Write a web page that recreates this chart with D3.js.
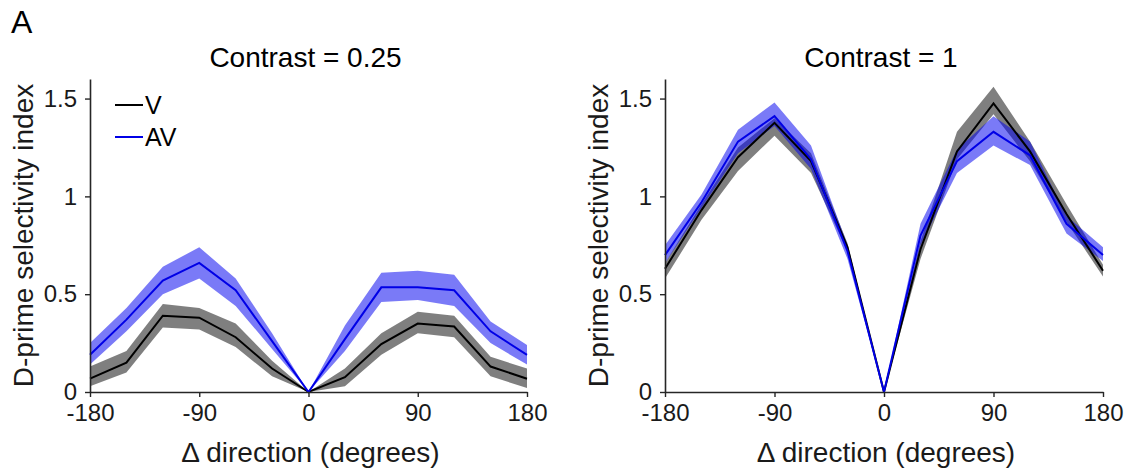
<!DOCTYPE html>
<html><head><meta charset="utf-8">
<script src="https://cdn.jsdelivr.net/npm/d3@7"></script>
<style>
body{margin:0;background:#fff;}
svg{display:block;font-family:"Liberation Sans",Arial,Helvetica,sans-serif;}
</style></head>
<body>
<svg id="chart" width="1137" height="473"></svg>
<script>
const directions = [-180,-150,-120,-90,-60,-30,0,30,60,90,120,150,180];
const xTicks = [-180,-90,0,90,180];
const yTicks = [0,0.5,1,1.5];
const yTickLabels = ["0","0.5","1","1.5"];
const seriesNames = ["V","AV"];
const panelTitles = ["Contrast = 0.25","Contrast = 1"];

// Contrast = 0.25
const lowV    = [0.068,0.15,0.39,0.38,0.28,0.12,0,0.076,0.245,0.35,0.335,0.13,0.068];
const lowVLo  = [0.03,0.10,0.33,0.32,0.23,0.08,0,0.03,0.19,0.30,0.28,0.08,0.02];
const lowVHi  = [0.13,0.21,0.45,0.43,0.35,0.16,0,0.12,0.30,0.41,0.39,0.18,0.12];
const lowAV   = [0.19,0.37,0.57,0.66,0.52,0.26,0,0.27,0.535,0.535,0.52,0.31,0.19];
const lowAVLo = [0.14,0.31,0.50,0.58,0.44,0.22,0,0.21,0.46,0.47,0.44,0.25,0.14];
const lowAVHi = [0.25,0.43,0.64,0.74,0.58,0.30,0,0.34,0.61,0.62,0.60,0.36,0.24];

// Contrast = 1
const highV    = [0.63,0.93,1.20,1.376,1.18,0.74,0,0.73,1.23,1.475,1.23,0.91,0.62];
const highVLo  = [0.58,0.88,1.13,1.31,1.12,0.72,0,0.68,1.19,1.42,1.18,0.87,0.59];
const highVHi  = [0.66,0.96,1.25,1.40,1.22,0.76,0,0.77,1.33,1.56,1.28,0.96,0.65];
const highAV   = [0.70,0.97,1.28,1.41,1.19,0.72,0,0.80,1.18,1.33,1.21,0.86,0.70];
const highAVLo = [0.66,0.94,1.22,1.36,1.14,0.68,0,0.75,1.12,1.26,1.16,0.81,0.67];
const highAVHi = [0.75,1.01,1.34,1.48,1.26,0.75,0,0.86,1.24,1.41,1.28,0.90,0.74];

const panels = [
  {title: panelTitles[0], left: 90, right: 527, series: [
    {name: seriesNames[0], mean: lowV, lo: lowVLo, hi: lowVHi, line: "#000000", fill: "rgba(0,0,0,0.5)"},
    {name: seriesNames[1], mean: lowAV, lo: lowAVLo, hi: lowAVHi, line: "#0000e6", fill: "rgba(0,0,240,0.52)"}
  ], legend: true},
  {title: panelTitles[1], left: 665, right: 1103, series: [
    {name: seriesNames[0], mean: highV, lo: highVLo, hi: highVHi, line: "#000000", fill: "rgba(0,0,0,0.5)"},
    {name: seriesNames[1], mean: highAV, lo: highAVLo, hi: highAVHi, line: "#0000e6", fill: "rgba(0,0,240,0.52)"}
  ], legend: false}
];

const svg = d3.select("#chart");
const axisColor = "#262626";
const plotTop = 79, plotBottom = 392;

svg.append("text").attr("x", 11).attr("y", 33).attr("font-size", 32).attr("fill", "#000").text("A");

panels.forEach(p => {
  const x = d3.scaleLinear().domain([-180,180]).range([p.left, p.right]);
  const y = d3.scaleLinear().domain([0,1.6]).range([plotBottom, plotTop]);
  const g = svg.append("g");

  // bands
  p.series.forEach(s => {
    const area = d3.area()
      .x((d,i) => x(directions[i]))
      .y0((d,i) => y(s.lo[i]))
      .y1((d,i) => y(s.hi[i]));
    g.append("path").datum(s.mean).attr("d", area).attr("fill", s.fill).attr("stroke", "none");
  });
  // lines
  p.series.forEach(s => {
    const line = d3.line().x((d,i) => x(directions[i])).y(d => y(d));
    g.append("path").datum(s.mean).attr("d", line).attr("fill", "none")
      .attr("stroke", s.line).attr("stroke-width", 2).attr("stroke-linejoin", "miter");
  });

  // x axis
  const xAxis = d3.axisBottom(x).tickValues(xTicks).tickSize(5).tickSizeOuter(0).tickPadding(7)
    .tickFormat(d => d < 0 ? "-" + Math.abs(d) : String(d));
  const xa = g.append("g").attr("transform", `translate(0,${plotBottom})`).call(xAxis);
  xa.select(".domain").attr("stroke", axisColor).attr("stroke-width", 1.6);
  xa.selectAll(".tick line").attr("stroke", axisColor).attr("stroke-width", 1.4);
  xa.selectAll("text").attr("font-size", 24).attr("fill", "#1a1a1a").attr("font-family", "Liberation Sans, Arial, sans-serif");

  // y axis
  const yAxis = d3.axisLeft(y).tickValues(yTicks).tickSize(5).tickSizeOuter(0).tickPadding(8)
    .tickFormat((d,i) => yTickLabels[i]);
  const ya = g.append("g").attr("transform", `translate(${p.left},0)`).call(yAxis);
  ya.select(".domain").attr("stroke", axisColor).attr("stroke-width", 1.6);
  ya.selectAll(".tick line").attr("stroke", axisColor).attr("stroke-width", 1.4);
  ya.selectAll("text").attr("font-size", 24).attr("fill", "#1a1a1a").attr("font-family", "Liberation Sans, Arial, sans-serif");

  const cx = (p.left + p.right) / 2;
  g.append("text").attr("x", cx - 3).attr("y", 67).attr("text-anchor", "middle")
    .attr("font-size", 28).attr("fill", "#000").text(p.title);
  g.append("text").attr("x", cx + 2).attr("y", 462).attr("text-anchor", "middle")
    .attr("font-size", 28).attr("fill", "#1a1a1a").text("\u0394 direction (degrees)");
  g.append("text").attr("transform", `translate(${p.left - 57},${(plotTop+plotBottom)/2}) rotate(-90)`)
    .attr("text-anchor", "middle").attr("font-size", 28).attr("fill", "#1a1a1a").text("D-prime selectivity index");

  if (p.legend) {
    p.series.forEach((s, i) => {
      const ly = 105 + i * 32;
      g.append("line").attr("x1", 115).attr("x2", 143).attr("y1", ly).attr("y2", ly)
        .attr("stroke", s.line).attr("stroke-width", 2);
      g.append("text").attr("x", 145).attr("y", ly + 9).attr("font-size", 25).attr("fill", "#000").text(s.name);
    });
  }
});
</script>
</body></html>
